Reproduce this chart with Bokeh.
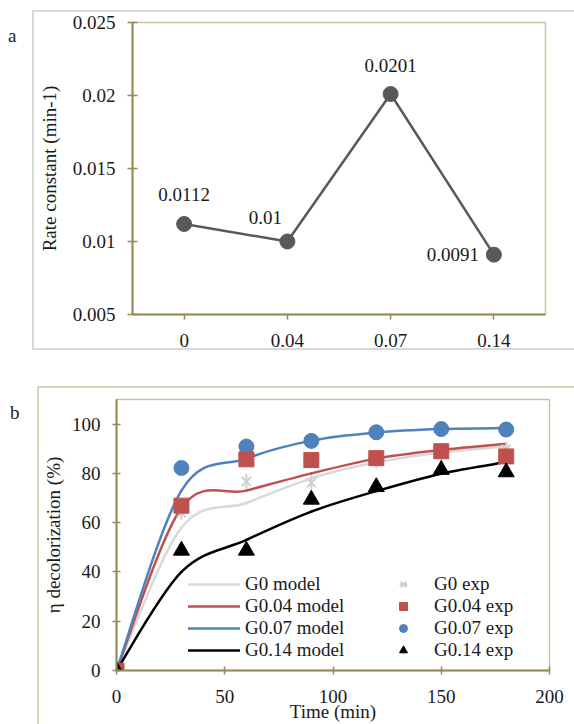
import numpy as np
from bokeh.plotting import figure
from bokeh.models import (ColumnDataSource, Range1d, FactorRange, FixedTicker, LabelSet,
                          Legend, LegendItem, LinearAxis)
from bokeh.embed import file_html
from bokeh.resources import INLINE

# ---------------- data: panel a ----------------
loading = ["0", "0.04", "0.07", "0.14"]
rate_constant = [0.0112, 0.0100, 0.0201, 0.0091]
rate_labels = ["0.0112", "0.01", "0.0201", "0.0091"]
a_yticks = [0.005, 0.01, 0.015, 0.02, 0.025]
a_yticklabels = ["0.005", "0.01", "0.015", "0.02", "0.025"]

# ---------------- data: panel b ----------------
time_min = [0, 30, 60, 90, 120, 150, 180]
g0_model = [0, 58.0, 68.0, 78.0, 84.5, 88.5, 91.0]
g004_model = [0, 66.0, 73.0, 80.0, 86.0, 89.5, 92.0]
g007_model = [0, 73.0, 86.0, 93.3, 96.6, 98.0, 98.4]
g014_model = [0, 40.0, 53.0, 64.5, 72.8, 79.9, 84.6]
g0_exp = [0, 64.0, 76.7, 76.2, 85.0, 88.0, 89.8]
g004_exp = [0, 66.9, 85.7, 85.4, 86.2, 89.0, 86.9]
g007_exp = [0, 82.2, 90.9, 93.2, 96.7, 98.0, 97.8]
g014_exp = [0, 48.7, 48.7, 69.4, 74.5, 81.5, 80.5]
b_xticks = [0, 50, 100, 150, 200]
b_yticks = [0, 20, 40, 60, 80, 100]

# ---------------- styles ----------------
FONT = "Times New Roman"
FS = "19px"
TXT = "#1a1a1a"
AXIS = "#948A54"
FRAME = "#C9C29E"
GRAY_LINE = "#595959"
C_G0 = "#D9D9D9"
C_G004 = "#C0504D"
C_G007 = "#4F81BD"
C_G014 = "#000000"

label_offsets = [(0, 29), (-22, 24), (0, 29), (-41, 0)]


def style_axes(p):
    for ax in (p.xaxis[0], p.yaxis[0]):
        ax.axis_line_color = AXIS
        ax.axis_line_width = 2
        ax.major_tick_line_color = AXIS
        ax.major_tick_line_width = 1.5
        ax.minor_tick_line_color = None
        ax.major_label_text_font = FONT
        ax.major_label_text_font_size = FS
        ax.major_label_text_color = TXT
        ax.axis_label_text_font = FONT
        ax.axis_label_text_font_size = FS
        ax.axis_label_text_font_style = "normal"
        ax.axis_label_text_color = TXT
    p.xgrid.visible = False
    p.ygrid.visible = False
    p.outline_line_color = FRAME
    p.outline_line_width = 1.5
    p.border_fill_alpha = 0


def letter_axis(value, text, standoff):
    return LinearAxis(ticker=FixedTicker(ticks=[value]), major_label_overrides={value: text},
                      axis_line_color=None, major_tick_line_color=None, minor_tick_line_color=None,
                      major_tick_in=0, major_tick_out=0, major_label_standoff=standoff,
                      major_label_text_font=FONT, major_label_text_font_size=FS,
                      major_label_text_color=TXT)


def box_css(color, left, top, bottom):
    g = f"linear-gradient({color},{color})"
    h = bottom - top
    return {"background": (f"{g} {left}px {top}px / 700px 2px no-repeat, "
                           f"{g} {left}px {bottom}px / 700px 2px no-repeat, "
                           f"{g} {left}px {top}px / 2px {h}px no-repeat, #ffffff")}


# ---------------- panel a ----------------
p1 = figure(width=574, height=368, x_range=FactorRange(*loading), y_range=Range1d(0.005, 0.025),
            output_backend="svg", toolbar_location=None,
            min_border_left=132, min_border_right=29, min_border_top=22, min_border_bottom=54)
style_axes(p1)
p1.yaxis[0].ticker = FixedTicker(ticks=a_yticks)
p1.yaxis[0].major_label_overrides = {t: l for t, l in zip(a_yticks, a_yticklabels)}
p1.yaxis[0].major_tick_in = 5
p1.yaxis[0].major_tick_out = 5
p1.yaxis[0].major_label_standoff = 12
p1.yaxis[0].axis_label = "Rate constant (min-1)"
p1.yaxis[0].axis_label_standoff = 10
p1.xaxis[0].major_tick_in = 0
p1.xaxis[0].major_tick_out = 5
p1.xaxis[0].major_label_standoff = 14
p1.styles = box_css("#D9D9D9", 32, 10, 348)

src_a = ColumnDataSource(dict(x=loading, y=rate_constant, lab=rate_labels,
                              dx=[o[0] for o in label_offsets], dy=[o[1] for o in label_offsets]))
p1.line("x", "y", source=src_a, line_color=GRAY_LINE, line_width=2.5)
p1.scatter("x", "y", source=src_a, size=15, marker="circle", fill_color=GRAY_LINE, line_color=GRAY_LINE)
p1.add_layout(LabelSet(x="x", y="y", text="lab", source=src_a, x_offset="dx", y_offset="dy",
                       text_align="center", text_baseline="middle", text_font=FONT,
                       text_font_size=FS, text_color=TXT))
a_letter_y = 0.025 - 0.02 * 13 / 292
p1.add_layout(letter_axis(a_letter_y, "a", 19), "left")

# ---------------- panel b ----------------
p2 = figure(width=574, height=356, x_range=Range1d(0, 200), y_range=Range1d(0, 110),
            output_backend="svg", toolbar_location=None,
            min_border_left=116, min_border_right=25, min_border_top=31, min_border_bottom=52)
style_axes(p2)
p2.xaxis[0].ticker = FixedTicker(ticks=b_xticks)
p2.yaxis[0].ticker = FixedTicker(ticks=b_yticks)
for ax in (p2.xaxis[0], p2.yaxis[0]):
    ax.major_tick_in = 4
    ax.major_tick_out = 4
    ax.major_label_standoff = 12
    ax.major_label_text_line_height = 0.8
    ax.axis_label_text_line_height = 0.8
p2.xaxis[0].major_label_standoff = 15
p2.xaxis[0].axis_label = "Time (min)"
p2.xaxis[0].axis_label_standoff = -5
p2.yaxis[0].axis_label = "η decolorization (%)"
p2.yaxis[0].axis_label_standoff = 5
p2.styles = box_css("#D8D3BC", 37, 18, 900)


def excel_smooth(xs, ys):
    n = len(xs)
    out = {k: [] for k in ("x0", "y0", "x1", "y1", "cx0", "cy0", "cx1", "cy1")}
    for i in range(n - 1):
        a = i - 1 if i > 0 else i
        d = i + 2 if i + 2 < n else i + 1
        out["x0"].append(xs[i]); out["y0"].append(ys[i])
        out["x1"].append(xs[i + 1]); out["y1"].append(ys[i + 1])
        out["cx0"].append(xs[i] + (xs[i + 1] - xs[a]) / 6.0)
        out["cy0"].append(ys[i] + (ys[i + 1] - ys[a]) / 6.0)
        out["cx1"].append(xs[i + 1] - (xs[d] - xs[i]) / 6.0)
        out["cy1"].append(ys[i + 1] - (ys[d] - ys[i]) / 6.0)
    return ColumnDataSource(out)


model_series = [("G0 model", g0_model, C_G0), ("G0.04 model", g004_model, C_G004),
                ("G0.07 model", g007_model, C_G007), ("G0.14 model", g014_model, C_G014)]
model_items = []
for name, ys, col in model_series:
    r = p2.bezier(x0="x0", y0="y0", x1="x1", y1="y1", cx0="cx0", cy0="cy0", cx1="cx1", cy1="cy1",
                  source=excel_smooth(time_min, ys), line_color=col, line_width=2.5, line_cap="round")
    model_items.append(LegendItem(label=name, renderers=[r]))

src_b = ColumnDataSource(dict(t=time_min, g0=g0_exp, g004=g004_exp, g007=g007_exp, g014=g014_exp))
r_g0x = p2.scatter("t", "g0", source=src_b, marker="x", size=13, line_color="#CFCFCF", line_width=2)
r_g0d = p2.scatter("t", "g0", source=src_b, marker="dash", angle=np.pi / 2, size=15,
                   line_color="#CFCFCF", line_width=2)
r_g007 = p2.scatter("t", "g007", source=src_b, marker="circle", size=15, fill_color=C_G007, line_color=C_G007)
r_g004 = p2.scatter("t", "g004", source=src_b, marker="square", size=15, fill_color=C_G004, line_color=C_G004)
r_g014 = p2.scatter("t", "g014", source=src_b, marker="triangle", size=16, fill_color=C_G014, line_color=C_G014)

exp_items = [LegendItem(label="G0 exp", renderers=[r_g0x, r_g0d]),
             LegendItem(label="G0.04 exp", renderers=[r_g004]),
             LegendItem(label="G0.07 exp", renderers=[r_g007]),
             LegendItem(label="G0.14 exp", renderers=[r_g014])]


def make_legend(items, loc, gw, standoff):
    return Legend(items=items, location=loc, background_fill_alpha=0, border_line_alpha=0,
                  padding=0, margin=0, spacing=0, glyph_width=gw, glyph_height=20, label_height=20,
                  label_standoff=standoff, label_text_font=FONT, label_text_font_size=FS,
                  label_text_color=TXT)


p2.add_layout(make_legend(model_items, (72, 9), 52, 5))
p2.add_layout(make_legend(exp_items, (277, 9), 20, 21))
b_letter_y = 110 - 110 * 13 / 273
p2.add_layout(letter_axis(b_letter_y, "b", 20), "left")

open("out.html", "w").write(file_html([p1, p2], INLINE))
